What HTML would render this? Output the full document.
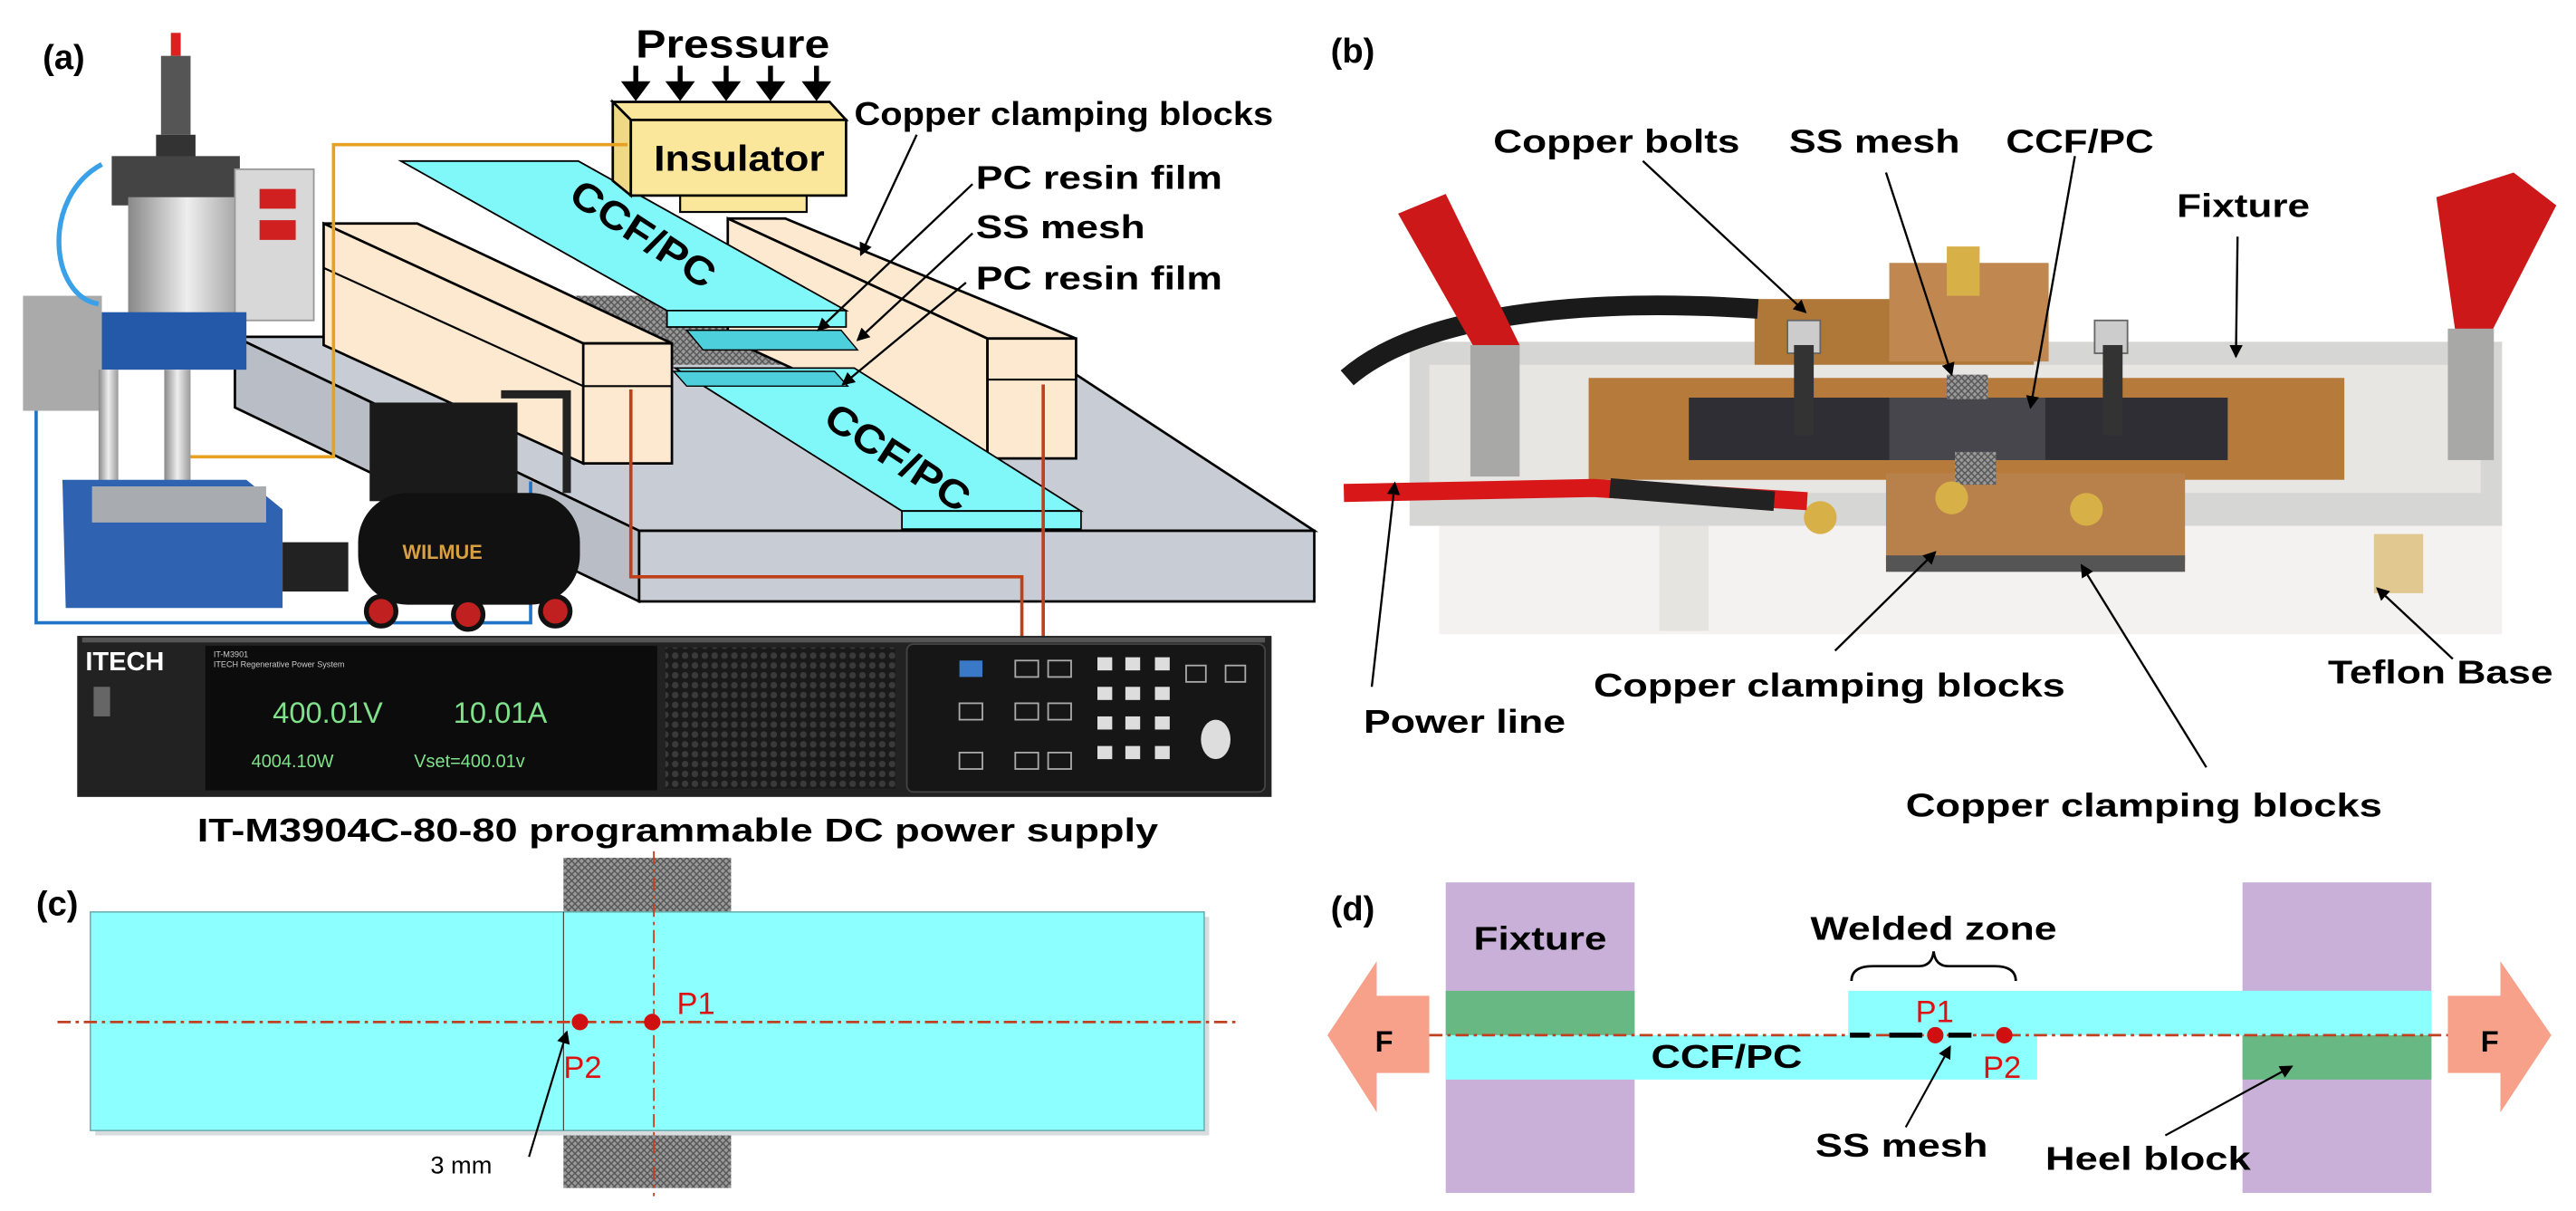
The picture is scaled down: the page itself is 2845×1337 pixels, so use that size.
<!DOCTYPE html>
<html><head><meta charset="utf-8"><style>
html,body{margin:0;padding:0;background:#fff;}
svg{display:block;}
text{font-family:"Liberation Sans Narrow","Liberation Sans",Arial,sans-serif;}
.b{font-weight:bold;}
</style></head><body>
<svg width="2845" height="1337" viewBox="0 0 1568 737" preserveAspectRatio="none" xmlns="http://www.w3.org/2000/svg">
<defs>
<marker id="ah" markerWidth="8" markerHeight="8" refX="7" refY="4" orient="auto" markerUnits="userSpaceOnUse"><path d="M0,0 L8,4 L0,8 z" fill="#000"/></marker>
<pattern id="mesh" width="4" height="4" patternUnits="userSpaceOnUse"><rect width="4" height="4" fill="#9a9a9a"/><path d="M0,0 L4,4 M4,0 L0,4" stroke="#555" stroke-width="0.8"/></pattern>
<linearGradient id="cyl" x1="0" x2="1"><stop offset="0" stop-color="#888"/><stop offset="0.5" stop-color="#eee"/><stop offset="1" stop-color="#999"/></linearGradient>
<pattern id="holes" width="6" height="6" patternUnits="userSpaceOnUse"><circle cx="3" cy="3" r="2" fill="#3a3a3a"/></pattern>
</defs>

<!-- ===== Panel (a) ===== -->
<text x="26" y="42" class="b" font-size="21">(a)</text>
<polygon points="143,205 620,205 800,323 389,323" fill="#c8ccd4" stroke="#000" stroke-width="1.5"/>
<polygon points="389,323 800,323 800,366 389,366" fill="#c8ccd4" stroke="#000" stroke-width="1.5"/>
<polygon points="143,205 389,323 389,366 143,248" fill="#b9bdc6" stroke="#000" stroke-width="1.5"/>
<polygon points="350,180 545,180 600,222 408,222" fill="url(#mesh)"/>
<polygon points="443,133 478,133 655,206 601,206" fill="#fde9cf" stroke="#000" stroke-width="1.5"/>
<polygon points="601,206 655,206 655,279 601,279" fill="#fde9cf" stroke="#000" stroke-width="1.5"/>
<polygon points="443,133 601,206 601,279 443,206" fill="#fde9cf" stroke="#000" stroke-width="1.5"/>
<line x1="601" y1="231" x2="655" y2="231" stroke="#000" stroke-width="1.2"/>
<polygon points="411,224 520,224 658,311 549,311" fill="#80f8fa" stroke="#000" stroke-width="1"/>
<polygon points="549,311 658,311 658,322 549,322" fill="#80f8fa" stroke="#000" stroke-width="1"/>
<polygon points="410,226 508,226 516,235 418,235" fill="#4ed0dc" stroke="#000" stroke-width="0.8"/>
<text transform="translate(500,258) rotate(33)" class="b" font-size="24" textLength="100" lengthAdjust="spacingAndGlyphs">CCF/PC</text>
<polygon points="197,136 254,136 409,209 355,209" fill="#fde9cf" stroke="#000" stroke-width="1.5"/>
<polygon points="355,209 409,209 409,282 355,282" fill="#fde9cf" stroke="#000" stroke-width="1.5"/>
<polygon points="197,136 355,209 355,282 197,210" fill="#fde9cf" stroke="#000" stroke-width="1.5"/>
<line x1="197" y1="163" x2="355" y2="235" stroke="#000" stroke-width="1.2"/>
<line x1="355" y1="235" x2="409" y2="235" stroke="#000" stroke-width="1.2"/>
<polygon points="244,98 352,98 515,189 406,189" fill="#80f8fa" stroke="#000" stroke-width="1"/>
<polygon points="406,189 515,189 515,199 406,199" fill="#80f8fa" stroke="#000" stroke-width="1"/>
<polygon points="418,201 512,201 522,213 428,213" fill="#4ed0dc" stroke="#000" stroke-width="0.8"/>
<text transform="translate(345,122) rotate(33)" class="b" font-size="24" textLength="100" lengthAdjust="spacingAndGlyphs">CCF/PC</text>
<rect x="414" y="119" width="77" height="10" fill="#fbe79c" stroke="#000" stroke-width="1.2"/>
<polygon points="373,62 505,62 515,73 384,73" fill="#fbe79c" stroke="#000" stroke-width="1.5"/>
<polygon points="373,62 384,73 384,119 373,110" fill="#f0d985" stroke="#000" stroke-width="1.5"/>
<rect x="384" y="73" width="131" height="46" fill="#fbe79c" stroke="#000" stroke-width="1.5"/>
<text x="398" y="104" class="b" font-size="22" textLength="104" lengthAdjust="spacingAndGlyphs">Insulator</text>
<text x="387" y="35" class="b" font-size="24" textLength="118" lengthAdjust="spacingAndGlyphs">Pressure</text>
<g stroke="#000" stroke-width="3" fill="#000">
<line x1="387" y1="40" x2="387" y2="52"/><polygon points="381,51 393,51 387,59"/>
<line x1="414" y1="40" x2="414" y2="52"/><polygon points="408,51 420,51 414,59"/>
<line x1="442" y1="40" x2="442" y2="52"/><polygon points="436,51 448,51 442,59"/>
<line x1="469" y1="40" x2="469" y2="52"/><polygon points="463,51 475,51 469,59"/>
<line x1="497" y1="40" x2="497" y2="52"/><polygon points="491,51 503,51 497,59"/>
</g>
<text x="520" y="76" class="b" font-size="20" textLength="255" lengthAdjust="spacingAndGlyphs">Copper clamping blocks</text>
<text x="594" y="115" class="b" font-size="20" textLength="150" lengthAdjust="spacingAndGlyphs">PC resin film</text>
<text x="594" y="145" class="b" font-size="20" textLength="103" lengthAdjust="spacingAndGlyphs">SS mesh</text>
<text x="594" y="176" class="b" font-size="20" textLength="150" lengthAdjust="spacingAndGlyphs">PC resin film</text>
<g stroke="#000" stroke-width="1.3" marker-end="url(#ah)">
<line x1="558" y1="82" x2="524" y2="155"/>
<line x1="592" y1="112" x2="498" y2="201"/>
<line x1="592" y1="142" x2="522" y2="207"/>
<line x1="588" y1="172" x2="513" y2="234"/>
</g>
<polyline points="382,88 203,88 203,278 104,278" fill="none" stroke="#e8a020" stroke-width="2"/>
<polyline points="22,223 22,379 323,379 323,293" fill="none" stroke="#1f74c8" stroke-width="2"/>
<polyline points="384,237 384,351 622,351 622,390" fill="none" stroke="#c0401a" stroke-width="2"/>
<polyline points="635,234 635,390" fill="none" stroke="#c0401a" stroke-width="2"/>
<g>
<rect x="104" y="20" width="6" height="14" fill="#e02020"/>
<rect x="98" y="34" width="18" height="48" fill="#555"/>
<rect x="95" y="82" width="24" height="14" fill="#333"/>
<rect x="68" y="95" width="78" height="30" fill="#444"/>
<rect x="78" y="120" width="72" height="74" fill="url(#cyl)"/>
<rect x="143" y="103" width="48" height="92" fill="#d8d8d8" stroke="#999"/>
<rect x="158" y="115" width="22" height="12" fill="#d02020"/>
<rect x="158" y="134" width="22" height="12" fill="#d02020"/>
<rect x="62" y="190" width="88" height="35" fill="#2458a8"/>
<rect x="14" y="180" width="48" height="70" fill="#aaa"/>
<rect x="100" y="225" width="16" height="75" fill="url(#cyl)"/>
<rect x="60" y="225" width="12" height="75" fill="url(#cyl)"/>
<polygon points="38,292 150,292 172,310 172,370 40,370" fill="#2f62b0"/>
<rect x="56" y="296" width="106" height="22" fill="#a8acb0"/>
<rect x="172" y="330" width="40" height="30" fill="#222"/>
<path d="M62,100 C25,120 30,180 60,185" fill="none" stroke="#3aa0e8" stroke-width="3"/>
</g>
<g>
<rect x="225" y="245" width="90" height="60" fill="#1a1a1a"/>
<path d="M305,240 L345,240 L345,300" fill="none" stroke="#222" stroke-width="5"/>
<rect x="218" y="300" width="135" height="68" rx="30" fill="#111"/>
<text x="245" y="340" font-size="12" fill="#d8a040" class="b">WILMUE</text>
<circle cx="232" cy="372" r="9" fill="#c02020" stroke="#111" stroke-width="3"/>
<circle cx="285" cy="374" r="9" fill="#c02020" stroke="#111" stroke-width="3"/>
<circle cx="338" cy="372" r="9" fill="#c02020" stroke="#111" stroke-width="3"/>
</g>
<rect x="47" y="387" width="727" height="98" fill="#222"/>
<rect x="50" y="388" width="720" height="3" fill="#555"/>
<text x="52" y="408" font-size="16" fill="#fff" class="b">ITECH</text>
<rect x="57" y="418" width="10" height="18" fill="#666"/>
<rect x="125" y="393" width="275" height="88" fill="#0c0c0c"/>
<text x="130" y="400" font-size="5" fill="#ccc" font-family="Liberation Mono">IT-M3901</text>
<text x="130" y="406" font-size="5" fill="#ccc" font-family="Liberation Mono">ITECH Regenerative Power System</text>
<text x="166" y="440" font-size="18" fill="#7fe28a" font-family="Liberation Mono">400.01V</text>
<text x="276" y="440" font-size="18" fill="#7fe28a" font-family="Liberation Mono">10.01A</text>
<text x="153" y="467" font-size="11" fill="#7fe28a" font-family="Liberation Mono">4004.10W</text>
<text x="252" y="467" font-size="11" fill="#7fe28a" font-family="Liberation Mono">Vset=400.01v</text>
<rect x="405" y="394" width="140" height="86" fill="#1a1a1a"/>
<rect x="405" y="394" width="140" height="86" fill="url(#holes)"/>
<rect x="552" y="392" width="218" height="90" rx="4" fill="#161616" stroke="#444"/>
<g fill="#ddd"><rect x="668" y="400" width="9" height="8"/><rect x="685" y="400" width="9" height="8"/><rect x="703" y="400" width="9" height="8"/>
<rect x="668" y="418" width="9" height="8"/><rect x="685" y="418" width="9" height="8"/><rect x="703" y="418" width="9" height="8"/>
<rect x="668" y="436" width="9" height="8"/><rect x="685" y="436" width="9" height="8"/><rect x="703" y="436" width="9" height="8"/>
<rect x="668" y="454" width="9" height="8"/><rect x="685" y="454" width="9" height="8"/><rect x="703" y="454" width="9" height="8"/></g>
<rect x="584" y="402" width="14" height="10" fill="#3a78c8"/>
<g fill="none" stroke="#aaa"><rect x="618" y="402" width="14" height="10"/><rect x="638" y="402" width="14" height="10"/><rect x="584" y="428" width="14" height="10"/><rect x="618" y="428" width="14" height="10"/><rect x="638" y="428" width="14" height="10"/><rect x="584" y="458" width="14" height="10"/><rect x="618" y="458" width="14" height="10"/><rect x="638" y="458" width="14" height="10"/><rect x="722" y="405" width="12" height="10"/><rect x="746" y="405" width="12" height="10"/></g>
<ellipse cx="740" cy="450" rx="9" ry="12" fill="#ddd"/>
<text x="120" y="512" class="b" font-size="20" textLength="585" lengthAdjust="spacingAndGlyphs">IT-M3904C-80-80 programmable DC power supply</text>

<!-- ===== Panel (b) ===== -->
<text x="810" y="38" class="b" font-size="21">(b)</text>
<g>
<rect x="876" y="300" width="647" height="86" fill="#f4f2f0"/>
<rect x="1010" y="310" width="30" height="74" fill="#e6e4e0"/>
<rect x="1445" y="325" width="30" height="36" fill="#e0c890"/>
<rect x="858" y="208" width="665" height="112" fill="#d6d6d4"/>
<rect x="870" y="222" width="640" height="78" fill="#e8e6e2"/>
<rect x="967" y="230" width="460" height="62" fill="#b67a3a"/>
<rect x="1028" y="242" width="328" height="38" fill="#2e2e34"/>
<rect x="1150" y="242" width="95" height="38" fill="#46464c"/>
<rect x="1068" y="182" width="170" height="40" fill="#b07838"/>
<rect x="1150" y="160" width="97" height="60" fill="#c08850"/>
<rect x="1185" y="150" width="20" height="30" fill="#d8b048"/>
<rect x="1148" y="288" width="182" height="54" fill="#b8804a"/>
<rect x="1148" y="338" width="182" height="10" fill="#555"/>
<rect x="1190" y="275" width="25" height="20" fill="url(#mesh)"/>
<rect x="1185" y="228" width="25" height="15" fill="url(#mesh)"/>
<circle cx="1188" cy="303" r="10" fill="#d8b048"/>
<circle cx="1108" cy="315" r="10" fill="#d8b048"/>
<circle cx="1270" cy="310" r="10" fill="#d8b048"/>
<rect x="1088" y="195" width="20" height="20" fill="#ccc" stroke="#666"/>
<rect x="1275" y="195" width="20" height="20" fill="#ccc" stroke="#666"/>
<rect x="1092" y="210" width="12" height="55" fill="#333"/>
<rect x="1280" y="210" width="12" height="55" fill="#333"/>
<path d="M820,230 C860,195 950,180 1070,188" fill="none" stroke="#1a1a1a" stroke-width="12"/>
<path d="M818,300 L970,297 L1100,305" fill="none" stroke="#d81818" stroke-width="11"/>
<path d="M980,297 L1080,305" fill="none" stroke="#222" stroke-width="12"/>
<polygon points="851,130 880,118 925,210 905,225" fill="#cc1818"/>
<polygon points="1483,120 1530,105 1556,125 1515,205 1495,205" fill="#cc1818"/>
<rect x="895" y="210" width="30" height="80" fill="#a8a8a6"/>
<rect x="1490" y="200" width="28" height="80" fill="#a8a8a6"/>
</g>
<text x="909" y="93" class="b" font-size="20" textLength="150" lengthAdjust="spacingAndGlyphs">Copper bolts</text>
<text x="1089" y="93" class="b" font-size="20" textLength="104" lengthAdjust="spacingAndGlyphs">SS mesh</text>
<text x="1221" y="93" class="b" font-size="20" textLength="90" lengthAdjust="spacingAndGlyphs">CCF/PC</text>
<text x="1325" y="132" class="b" font-size="20" textLength="81" lengthAdjust="spacingAndGlyphs">Fixture</text>
<text x="1417" y="416" class="b" font-size="20" textLength="137" lengthAdjust="spacingAndGlyphs">Teflon Base</text>
<text x="970" y="424" class="b" font-size="20" textLength="287" lengthAdjust="spacingAndGlyphs">Copper clamping blocks</text>
<text x="830" y="446" class="b" font-size="20" textLength="123" lengthAdjust="spacingAndGlyphs">Power line</text>
<text x="1160" y="497" class="b" font-size="20" textLength="290" lengthAdjust="spacingAndGlyphs">Copper clamping blocks</text>
<g stroke="#000" stroke-width="1.3" marker-end="url(#ah)">
<line x1="1000" y1="98" x2="1099" y2="190"/>
<line x1="1148" y1="105" x2="1188" y2="228"/>
<line x1="1263" y1="95" x2="1236" y2="248"/>
<line x1="1362" y1="144" x2="1361" y2="217"/>
<line x1="1493" y1="401" x2="1447" y2="358"/>
<line x1="1117" y1="396" x2="1178" y2="336"/>
<line x1="1343" y1="467" x2="1267" y2="344"/>
<line x1="835" y1="418" x2="849" y2="294"/>
</g>

<!-- ===== Panel (c) ===== -->
<text x="22" y="557" class="b" font-size="21">(c)</text>
<rect x="343" y="522" width="102" height="201" fill="url(#mesh)"/>
<rect x="58" y="558" width="678" height="133" fill="#d8dcdc"/>
<rect x="55" y="555" width="678" height="133" fill="#8cffff" stroke="#6aa" stroke-width="0.8"/>
<line x1="343" y1="555" x2="343" y2="688" stroke="#333" stroke-width="0.6"/>
<line x1="398" y1="518" x2="398" y2="728" stroke="#c04020" stroke-width="1" stroke-dasharray="8,3,2,3"/>
<line x1="35" y1="622" x2="752" y2="622" stroke="#c04020" stroke-width="1.5" stroke-dasharray="8,3,2,3"/>
<circle cx="353" cy="622" r="5" fill="#d01010"/>
<circle cx="397" cy="622" r="5" fill="#d01010"/>
<text x="412" y="617" font-size="19" fill="#e01010">P1</text>
<text x="343" y="656" font-size="19" fill="#e01010">P2</text>
<text x="262" y="714" font-size="15">3 mm</text>
<line x1="322" y1="704" x2="345" y2="628" stroke="#000" stroke-width="1.2" marker-end="url(#ah)"/>

<!-- ===== Panel (d) ===== -->
<text x="810" y="560" class="b" font-size="21">(d)</text>
<rect x="880" y="537" width="115" height="189" fill="#c8b0d8"/>
<rect x="1365" y="537" width="115" height="189" fill="#c8b0d8"/>
<rect x="880" y="603" width="115" height="27" fill="#68b884"/>
<rect x="1365" y="630" width="115" height="27" fill="#68b884"/>
<rect x="880" y="630" width="360" height="27" fill="#8cffff"/>
<rect x="1125" y="603" width="355" height="27" fill="#8cffff"/>
<polygon points="808,630 838,585 838,606 870,606 870,653 838,653 838,677" fill="#f7a08a"/>
<polygon points="1553,630 1522,585 1522,606 1490,606 1490,653 1522,653 1522,677" fill="#f7a08a"/>
<text x="837" y="640" class="b" font-size="18">F</text>
<text x="1510" y="640" class="b" font-size="18">F</text>
<line x1="870" y1="630" x2="1490" y2="630" stroke="#c04020" stroke-width="1.5" stroke-dasharray="8,3,2,3"/>
<g stroke="#000" stroke-width="3"><line x1="1126" y1="630" x2="1138" y2="630"/><line x1="1150" y1="630" x2="1170" y2="630"/><line x1="1186" y1="630" x2="1200" y2="630"/></g>
<circle cx="1178" cy="630" r="5" fill="#d01010"/>
<circle cx="1220" cy="630" r="5" fill="#d01010"/>
<text x="1166" y="622" font-size="19" fill="#e01010">P1</text>
<text x="1207" y="656" font-size="19" fill="#e01010">P2</text>
<text x="897" y="578" class="b" font-size="20" textLength="81" lengthAdjust="spacingAndGlyphs">Fixture</text>
<text x="1102" y="572" class="b" font-size="20" textLength="150" lengthAdjust="spacingAndGlyphs">Welded zone</text>
<path d="M1127,597 Q1127,588 1140,588 L1168,588 Q1176,588 1177,579 Q1178,588 1186,588 L1214,588 Q1227,588 1227,597" fill="none" stroke="#000" stroke-width="1.5"/>
<text x="1005" y="650" class="b" font-size="20" textLength="92" lengthAdjust="spacingAndGlyphs">CCF/PC</text>
<text x="1105" y="704" class="b" font-size="20" textLength="105" lengthAdjust="spacingAndGlyphs">SS mesh</text>
<text x="1245" y="712" class="b" font-size="20" textLength="125" lengthAdjust="spacingAndGlyphs">Heel block</text>
<line x1="1160" y1="686" x2="1187" y2="637" stroke="#000" stroke-width="1.2" marker-end="url(#ah)"/>
<line x1="1318" y1="691" x2="1395" y2="649" stroke="#000" stroke-width="1.2" marker-end="url(#ah)"/>
</svg>
</body></html>
